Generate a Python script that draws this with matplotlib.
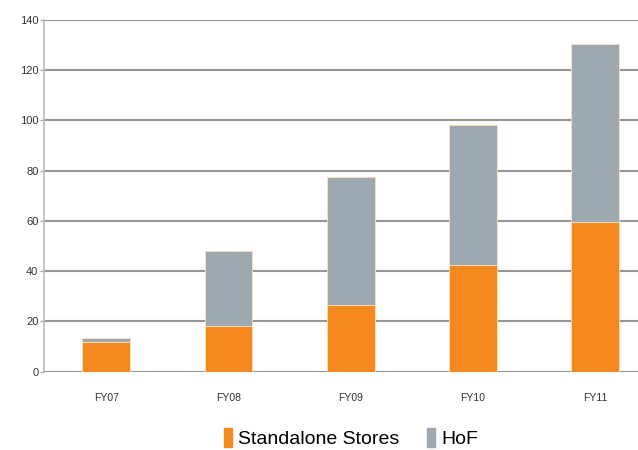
import matplotlib
matplotlib.use("Agg")
import matplotlib.pyplot as plt
from matplotlib.patches import Patch

categories = ["FY07", "FY08", "FY09", "FY10", "FY11"]
standalone = [12, 18, 26.5, 42.5, 59.5]
hof = [1.3, 30, 51, 55.8, 70.8]
yticks = [0, 20, 40, 60, 80, 100, 120, 140]

plt.rcParams['font.family'] = ['Liberation Sans', 'DejaVu Sans']

orange = "#F5891F"
grey = "#9DA8B0"

fig = plt.figure(figsize=(6.38, 4.5), dpi=100)
ax = fig.add_axes([0.069, 0.174, 0.931, 0.782])

x = list(range(len(categories)))
w = 0.39
ax.bar(x, standalone, width=w, color=orange, edgecolor="#FBE3B8", linewidth=0.6, zorder=3)
ax.bar(x, hof, bottom=standalone, width=w, color=grey, edgecolor="#FBE3B8", linewidth=0.6, zorder=3)

ax.set_ylim(0, 140)
ax.set_xlim(-0.508, 4.35)
ax.set_yticks(yticks)
ax.set_yticklabels([str(v) for v in yticks], fontsize=8, color="#333333")
ax.set_xticks(x)
ax.set_xticklabels(categories, fontsize=7.5, color="#333333")
ax.tick_params(axis='x', length=0, pad=15)
ax.tick_params(axis='y', length=3, color="#AAAAAA", width=1, pad=1)

ax.yaxis.grid(True, color="#959595", linewidth=1.5, zorder=0)
ax.set_axisbelow(True)
for s in ["top", "right", "bottom"]:
    ax.spines[s].set_visible(False)
ax.spines["left"].set_color("#BBBBBB")
ax.spines["left"].set_linewidth(1.2)

handles = [Patch(color=orange, label="Standalone Stores"), Patch(color=grey, label="HoF")]
fig.legend(handles=handles, loc="center", bbox_to_anchor=(0.55, 0.027), ncol=2,
           frameon=False, fontsize=14, handlelength=0.45, handleheight=1.1,
           handletextpad=0.3, columnspacing=1.4, borderaxespad=0)

fig.savefig("out.png", dpi=100)
